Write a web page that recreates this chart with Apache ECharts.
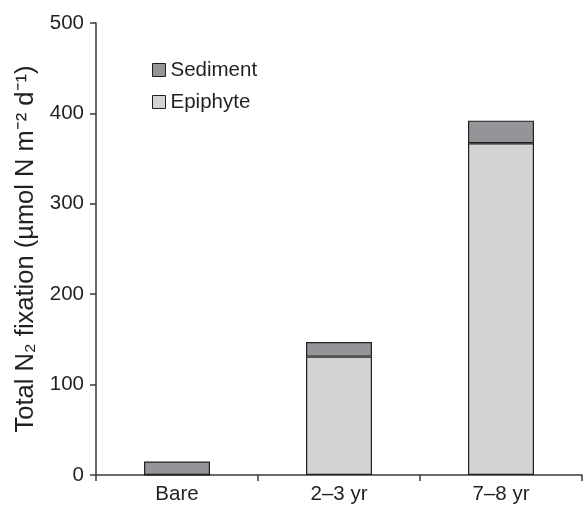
<!DOCTYPE html>
<html>
<head>
<meta charset="utf-8">
<script src="https://cdn.jsdelivr.net/npm/echarts@6/dist/echarts.min.js"></script>
<style>html,body{margin:0;padding:0;background:#fff}#c{width:583px;height:505px}</style>
</head>
<body>
<div id="c"></div>
<script>
var categories = ['Bare', '2\u20133 yr', '7\u20138 yr'];
var epiphyte = [0, 131, 367];
var sediment = [15, 16, 25];
var yTicks = { min: 0, max: 500, interval: 100 };

var font = '"Liberation Sans", Arial, sans-serif';
var ink = '#231f20';
var chart = echarts.init(document.getElementById('c'), null, { renderer: 'canvas' });
chart.setOption({
  animation: false,
  backgroundColor: '#fff',
  grid: { left: 96, right: 1, top: 23, bottom: 28, containLabel: false },
  legend: {
    orient: 'vertical', left: 152, top: 59, padding: 0,
    itemWidth: 13, itemHeight: 13, itemGap: 10,
    icon: 'rect',
    data: ['Sediment', 'Epiphyte'],
    itemStyle: { borderColor: ink, borderWidth: 1 },
    textStyle: { fontFamily: font, fontSize: 20.5, color: ink, lineHeight: 22, padding: [0, 0, 0, 0] }
  },
  xAxis: {
    type: 'category', data: categories,
    axisLine: { show: true, lineStyle: { color: '#3a3a3a', width: 1.5 } },
    axisTick: { show: true, length: 6, lineStyle: { color: '#3a3a3a', width: 1.5 } },
    axisLabel: { fontFamily: font, fontSize: 20.5, color: ink, margin: 9 }
  },
  yAxis: {
    type: 'value', min: yTicks.min, max: yTicks.max, interval: yTicks.interval,
    name: 'Total N\u2082 fixation (\u00b5mol N m\u207b\u00b2 d\u207b\u00b9)',
    nameLocation: 'middle', nameGap: 55,
    nameTextStyle: { fontFamily: font, fontSize: 25.5, color: ink },
    axisLine: { show: true, lineStyle: { color: '#3a3a3a', width: 1.5 } },
    axisTick: { show: true, length: 6, lineStyle: { color: '#3a3a3a', width: 1.5 } },
    axisLabel: { fontFamily: font, fontSize: 20.5, color: ink, margin: 12 },
    splitLine: { show: false }
  },
  series: [
    {
      name: 'Epiphyte', type: 'bar', stack: 'total', data: epiphyte, barWidth: 66,
      itemStyle: { color: '#d1d3d4', borderColor: ink, borderWidth: 1.2 }
    },
    {
      name: 'Sediment', type: 'bar', stack: 'total', data: sediment, barWidth: 66,
      itemStyle: { color: '#939598', borderColor: ink, borderWidth: 1.2 }
    }
  ]
});
</script>
</body>
</html>
